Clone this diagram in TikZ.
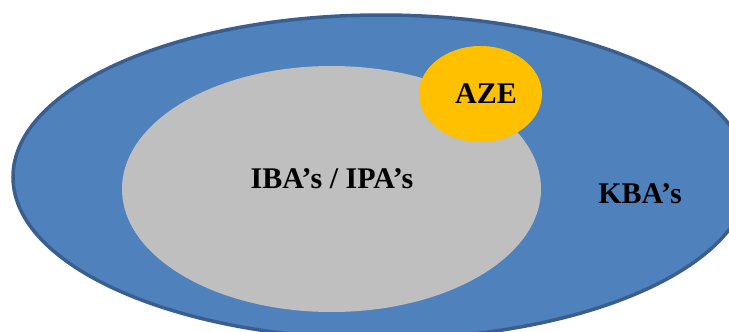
\documentclass[tikz,border=0pt]{standalone}
\usepackage{fontspec}
\setmainfont{Liberation Serif}
\usetikzlibrary{shapes.geometric}
\definecolor{kbafill}{HTML}{4F81BD}
\definecolor{kbaline}{HTML}{3A5F8E}
\definecolor{ibafill}{HTML}{BFBFBF}
\definecolor{azefill}{HTML}{FFC000}
\tikzset{
  region/.style={ellipse, inner sep=0pt, outer sep=0pt},
  label text/.style={font=\bfseries\fontsize{30}{35}\selectfont, text=black, inner sep=0pt, anchor=base}
}
\begin{document}
\begin{tikzpicture}[x=1pt, y=-1pt]
  \useasboundingbox (0,0) rectangle (729,332);
  \clip (0,0) rectangle (729,332);
  % outer set
  \node[region, fill=kbafill, draw=kbaline, line width=3.5pt,
        minimum width=736pt, minimum height=324pt] (kba) at (381,177) {};
  % inner set
  \node[region, fill=ibafill, minimum width=419pt, minimum height=246pt] (iba) at (331.5,189) {};
  % small set on the rim of the inner one
  \node[region, fill=azefill, minimum width=123pt, minimum height=96pt] (aze) at (480.5,94) {};
  % labels
  \node[label text] (azelabel) at (486,103.5) {AZE};
  \node[label text] (ibalabel) at (332,188.5) {IBA’s / IPA’s};
  \node[label text] (kbalabel) at (640,203.5) {KBA’s};
\end{tikzpicture}
\end{document}
